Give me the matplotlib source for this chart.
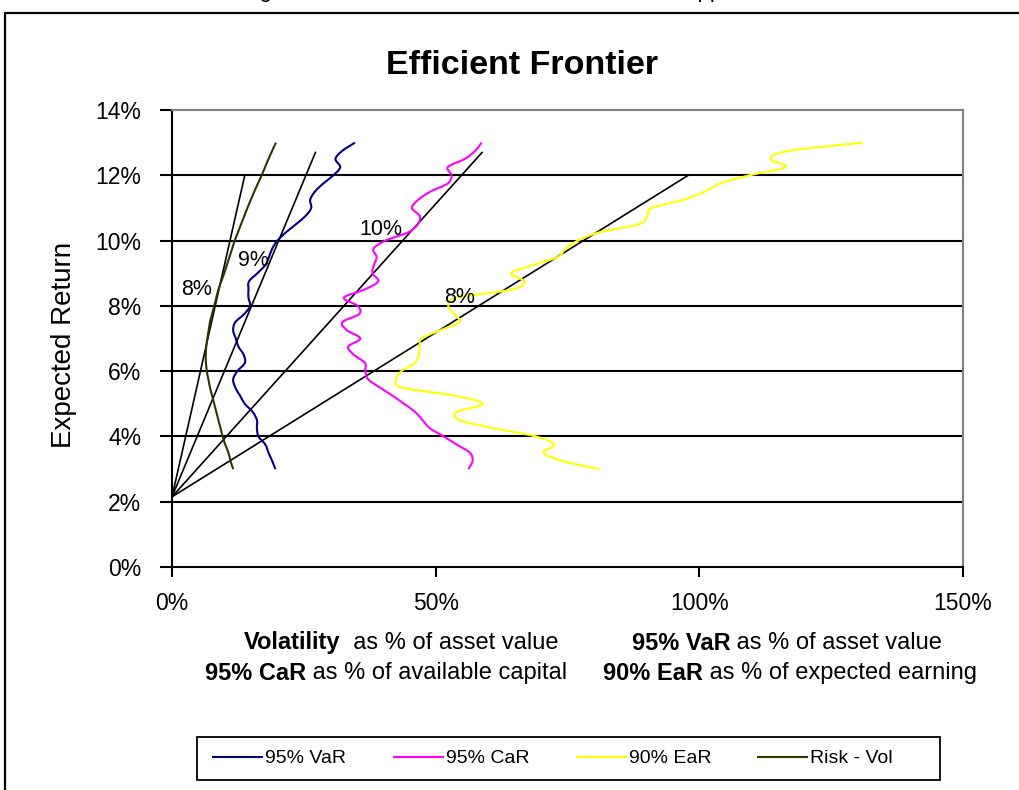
import matplotlib
matplotlib.use("Agg")
import matplotlib.pyplot as plt
from matplotlib.path import Path
from matplotlib.patches import PathPatch, Rectangle
from matplotlib.lines import Line2D
from matplotlib.ticker import PercentFormatter
import numpy as np

plt.rcParams['font.family'] = ['Liberation Sans', 'DejaVu Sans']

# expected return (%) for every point of the risk curves
returns = [3.00, 3.25, 3.50, 3.75, 4.00, 4.25, 4.50, 4.75, 5.00, 5.25,
           5.50, 5.75, 6.00, 6.25, 6.50, 6.75, 7.00, 7.25, 7.50, 7.75,
           8.00, 8.25, 8.50, 8.75, 9.00, 9.25, 9.50, 9.75, 10.00, 10.25,
           10.50, 10.75, 11.00, 11.25, 11.50, 11.75, 12.00, 12.25, 12.50, 12.75,
           13.00]

# risk measures (%)
var95 = [19.6, 19.0, 18.3, 17.7, 16.4, 16.1, 16.1, 15.3, 13.8, 12.9,
         12.0, 11.6, 12.4, 13.8, 13.6, 12.6, 12.1, 11.6, 12.0, 13.7,
         14.8, 14.5, 14.5, 14.6, 16.2, 17.7, 18.4, 19.0, 20.0, 21.6,
         23.5, 25.3, 26.4, 26.2, 27.1, 28.7, 30.6, 31.9, 31.0, 32.3,
         34.7]
car95 = [56.2, 57.0, 56.5, 54.0, 51.5, 48.9, 47.5, 46.1, 44.0, 41.8,
         39.4, 37.2, 36.7, 36.6, 34.5, 33.4, 35.7, 33.2, 32.3, 35.5,
         35.2, 32.6, 36.5, 39.1, 38.0, 38.3, 38.8, 38.2, 40.5, 44.8,
         46.6, 47.0, 45.5, 46.7, 49.0, 52.3, 53.0, 52.3, 55.5, 57.5,
         58.7]
ear90 = [81.0, 74.0, 70.4, 72.5, 69.0, 61.0, 54.5, 54.0, 59.0, 53.5,
         43.5, 42.5, 43.5, 46.0, 46.8, 47.0, 47.3, 50.8, 54.5, 53.5,
         52.4, 54.0, 64.5, 66.8, 64.3, 68.5, 73.2, 74.6, 77.0, 81.0,
         88.5, 90.1, 91.0, 97.0, 101.0, 104.0, 109.5, 116.3, 113.5, 117.0,
         131.0]
risk_vol = [11.6, 11.1, 10.7, 10.1, 9.6, 9.2, 8.8, 8.4, 8.0, 7.6,
            7.2, 6.9, 6.6, 6.45, 6.4, 6.5, 6.7, 6.95, 7.2, 7.6,
            8.0, 8.4, 8.8, 9.35, 9.9, 10.4, 10.9, 11.4, 11.9, 12.5,
            13.1, 13.7, 14.3, 14.95, 15.6, 16.3, 17.0, 17.65, 18.3, 19.0,
            19.7]

series_names = ['95% VaR', '95% CaR', '90% EaR', 'Risk - Vol']
series_values = [var95, car95, ear90, risk_vol]
series_colors = ['#000080', '#FF00FF', '#FFFF00', '#333300']

# straight lines from the risk free rate
risk_free = 2.15
line_end_x = [13.8, 27.2, 58.8, 97.9]
line_end_y = [12.0, 12.7, 12.7, 12.0]
line_labels = ['8%', '9%', '10%', '8%']
line_label_x = [4.7, 15.4, 39.6, 54.6]
line_label_y = [8.5, 9.4, 10.35, 8.27]


def smooth_path(xs, ys):
    pts = np.column_stack([xs, ys])
    n = len(pts)
    verts = [pts[0]]
    codes = [Path.MOVETO]
    for i in range(n - 1):
        p0 = pts[i - 1] if i > 0 else pts[i]
        p1 = pts[i]
        p2 = pts[i + 1]
        p3 = pts[i + 2] if i + 2 < n else pts[i + 1]
        verts += [p1 + (p2 - p0) / 6.0, p2 - (p3 - p1) / 6.0, p2]
        codes += [Path.CURVE4] * 3
    return Path(verts, codes)


W, H = 1019, 790
fig = plt.figure(figsize=(W / 100, H / 100), dpi=100)
renderer = fig.canvas.get_renderer()


def mixed_line(cx, cy, bold, regular, size):
    # bold words followed by normal words, centred as one line (pixel coords)
    t1 = fig.text(0, 1 - cy / H, bold, fontsize=size, fontweight='bold', va='center')
    t2 = fig.text(0, 1 - cy / H, regular, fontsize=size, va='center')
    w1 = t1.get_window_extent(renderer).width
    w2 = t2.get_window_extent(renderer).width
    x0 = cx - (w1 + w2) / 2
    t1.set_x(x0 / W)
    t2.set_x((x0 + w1) / W)


# outer frame of the chart object (cut at right and bottom)
fig.add_artist(Rectangle((5 / W, -0.1), 1.2, 1.1 - 13 / H, transform=fig.transFigure,
                         fill=False, ec='black', lw=1.6, clip_on=False))
fig.text(0.5, 1 + 3 / H, 'Figure 6: Asset Allocation \u2013 Efficient Frontier Approach',
         ha='center', va='baseline', fontsize=16)

ax = fig.add_axes([172 / W, 1 - 567 / H, (963 - 172) / W, (567 - 110) / H])
ax.set_xlim(0, 150)
ax.set_ylim(0, 14)
ax.set_xticks([0, 50, 100, 150])
ax.set_yticks([0, 2, 4, 6, 8, 10, 12, 14])
ax.xaxis.set_major_formatter(PercentFormatter(100, decimals=0))
ax.yaxis.set_major_formatter(PercentFormatter(100, decimals=0))
ax.tick_params(axis='y', direction='out', length=9, width=1.5, pad=13, labelsize=16.5)
ax.tick_params(axis='x', direction='out', length=7, width=1.5, pad=11, labelsize=16.5)

for s in ['left', 'bottom']:
    ax.spines[s].set_color('black')
    ax.spines[s].set_linewidth(1.5)
for s in ['top', 'right']:
    ax.spines[s].set_color('#808080')
    ax.spines[s].set_linewidth(1.5)

ax.hlines([2, 4, 6, 8, 10, 12], 0, 150, colors='black', lw=1.5, zorder=1)

for ex, ey in zip(line_end_x, line_end_y):
    ax.plot([0, ex], [risk_free, ey], color='black', lw=1.2, zorder=2)

for vals, col in zip(series_values, series_colors):
    ax.add_patch(PathPatch(smooth_path(vals, returns), fill=False, ec=col, lw=1.5, zorder=3))

for t, lx, ly in zip(line_labels, line_label_x, line_label_y):
    ax.text(lx, ly, t, ha='center', va='center', fontsize=15.5, zorder=4)

fig.text(522 / W, 1 - 65 / H, 'Efficient Frontier', ha='center', va='center',
         fontsize=24.5, fontweight='bold')
fig.text(64 / W, 1 - 345 / H, 'Expected Return', rotation=90, ha='center', va='center',
         fontsize=20)

mixed_line(401, 643, 'Volatility', '  as % of asset value', 17)
mixed_line(386, 673, '95% CaR', ' as % of available capital', 17)
mixed_line(787, 643, '95% VaR', ' as % of asset value', 17)
mixed_line(790, 673, '90% EaR', ' as % of expected earning', 17)

# legend: frame drawn as its own box, equal-width entries placed inside it
fig.add_artist(Rectangle((197 / W, 1 - 780 / H), 743 / W, 43 / H, transform=fig.transFigure,
                         fill=False, ec='black', lw=1.3))
entry_x = [213, 394, 577, 758]
for name, col, ex in zip(series_names, series_colors, entry_x):
    leg = fig.legend([Line2D([], [], color=col, lw=1.5)], [name], loc='center left',
                     bbox_to_anchor=(ex / W, 1 - 758.5 / H),
                     fontsize=14, handlelength=2.5, handletextpad=0.15,
                     frameon=False, borderaxespad=0, borderpad=0)

fig.savefig('out.png', dpi=100)
